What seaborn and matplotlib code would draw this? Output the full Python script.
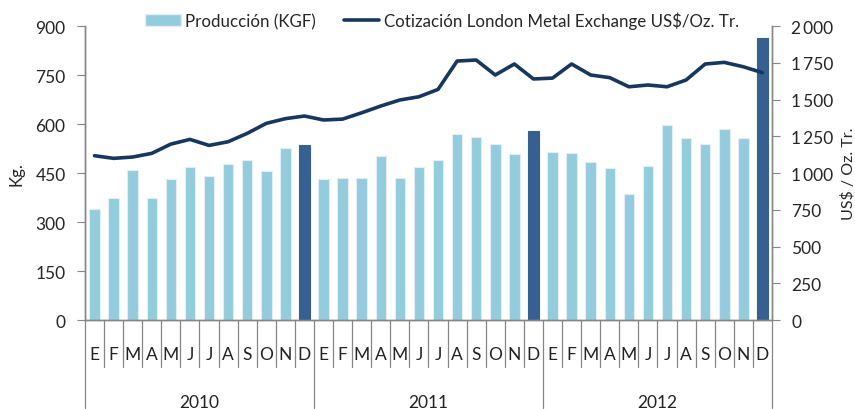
import numpy as np
import pandas as pd
import seaborn as sns
from matplotlib import pyplot as plt
from matplotlib import transforms
from matplotlib.colors import to_hex
from matplotlib.patches import Patch
from matplotlib.lines import Line2D
from matplotlib.ticker import FuncFormatter, MultipleLocator

YEARS = ["2010", "2011", "2012"]
MONTHS = ["E", "F", "M", "A", "M", "J", "J", "A", "S", "O", "N", "D"]

# production in kg (left axis)
PROD_2010 = [340, 375, 460, 375, 432, 468, 440, 477, 490, 455, 527, 535]
PROD_2011 = [432, 436, 436, 503, 436, 468, 490, 571, 561, 539, 507, 578]
PROD_2012 = [515, 511, 485, 466, 386, 471, 597, 557, 539, 584, 557, 864]

# LME quotation US$/oz (right axis)
LME_2010 = [1118, 1100, 1109, 1134, 1197, 1229, 1188, 1213, 1270, 1338, 1370, 1388]
LME_2011 = [1361, 1367, 1410, 1456, 1497, 1519, 1569, 1762, 1769, 1667, 1742, 1640]
LME_2012 = [1646, 1742, 1667, 1649, 1587, 1599, 1587, 1633, 1742, 1753, 1723, 1683]

LIGHT = "#93CDDD"
DARK = "#366092"
LINE = "#17375E"
GRID_GRAY = "#868686"
FS = 12.2

sns.set_style("white")
plt.rcParams["font.family"] = ["Lato", "DejaVu Sans"]


def thousands(v, pos):
    return f"{int(v):,}".replace(",", "\u2009")


def main():
    rows = []
    for year, prod, lme in zip(YEARS, [PROD_2010, PROD_2011, PROD_2012],
                               [LME_2010, LME_2011, LME_2012]):
        for m, (month, p, q) in enumerate(zip(MONTHS, prod, lme)):
            rows.append({
                "period": f"{year}-{m + 1:02d}",
                "month": month,
                "year": year,
                "prod": p,
                "lme": q,
                "kind": "dic" if m == 11 else "mes",
            })
    df = pd.DataFrame(rows)
    df["pos"] = np.arange(len(df))

    fig = plt.figure(figsize=(8.55, 4.10), dpi=100)
    ax = fig.add_axes([0.0994, 0.217, 0.8035, 0.717])

    sns.barplot(data=df, x="period", y="prod", hue="kind",
                palette={"mes": LIGHT, "dic": DARK}, dodge=False,
                saturation=1, width=0.55, ax=ax, legend=False,
                edgecolor="#E4ECF5", linewidth=0.8)
    for p in ax.patches:
        if to_hex(p.get_facecolor()).lower() == DARK.lower():
            p.set_edgecolor(DARK)

    ax.set_ylim(0, 900)
    ax.set_xlim(-0.5, len(df) - 0.5)
    ax.yaxis.set_major_locator(MultipleLocator(150))
    ax.set_xlabel("")
    ax.set_xticks([])
    ax.set_ylabel("Kg.", fontsize=FS, labelpad=8)
    ax.tick_params(axis="y", which="both", left=True, length=6,
                   color=GRID_GRAY, labelsize=FS + 0.3, pad=8)

    ax2 = ax.twinx()
    sns.lineplot(data=df, x="pos", y="lme", color=LINE, linewidth=2.6,
                 ax=ax2, legend=False)
    ax2.set_ylim(0, 2000)
    ax2.set_xlim(-0.5, len(df) - 0.5)
    ax2.yaxis.set_major_locator(MultipleLocator(250))
    ax2.yaxis.set_major_formatter(FuncFormatter(thousands))
    ax2.set_xlabel("")
    ax2.set_ylabel("US$ / Oz. Tr.", fontsize=FS - 0.7)
    ax2.yaxis.set_label_coords(1.1, 0.5)
    ax2.tick_params(axis="y", right=True, length=6, color=GRID_GRAY,
                    labelsize=FS + 0.3, pad=8)

    for a in (ax, ax2):
        a.spines["top"].set_visible(False)
        for side in ("left", "right", "bottom"):
            a.spines[side].set_color(GRID_GRAY)
            a.spines[side].set_linewidth(1)

    # category axis: month letters, year groups and separators
    trans = transforms.blended_transform_factory(ax.transData, ax.transAxes)
    n = len(df)
    for i in range(n + 1):
        bottom = -0.30 if i % 12 == 0 else -0.16
        ax.plot([i - 0.5, i - 0.5], [0, bottom], transform=trans,
                color=GRID_GRAY, linewidth=0.9, clip_on=False)
    for i, month in zip(df["pos"], df["month"]):
        ax.text(i, -0.115, month, transform=trans, ha="center", va="center",
                fontsize=FS + 0.3, color="#222222")
    for k, year in enumerate(YEARS):
        ax.text(k * 12 + 5.5, -0.28, year, transform=trans, ha="center",
                va="center", fontsize=FS + 0.3, color="#222222")

    handles = [
        Patch(facecolor=LIGHT, edgecolor="#E4ECF5"),
        Line2D([0], [0], color=LINE, linewidth=2.6),
    ]
    fig.legend(handles, ["Producción (KGF)",
                         "Cotización London Metal Exchange US$/Oz. Tr."],
               loc="center", bbox_to_anchor=(0.517, 0.948), ncol=2,
               frameon=False, fontsize=FS, handlelength=2.1,
               handletextpad=0.25, columnspacing=1.65)

    fig.savefig("out.png", dpi=100)


if __name__ == "__main__":
    main()
